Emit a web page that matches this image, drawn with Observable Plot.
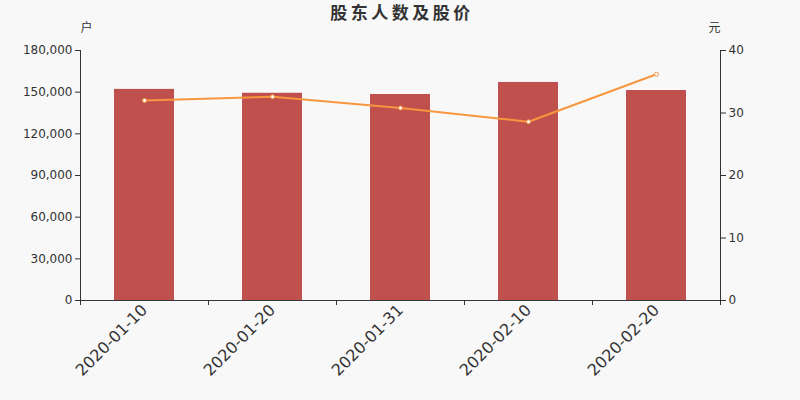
<!DOCTYPE html>
<html><head><meta charset="utf-8">
<script src="https://cdn.jsdelivr.net/npm/d3@7"></script>
<script src="https://cdn.jsdelivr.net/npm/@observablehq/plot@0.6"></script>
<style>body{margin:0;background:#f8f8f8;}</style>
</head><body><div id="chart"></div>
<script>
const dates = ["2020-01-10","2020-01-20","2020-01-31","2020-02-10","2020-02-20"];
const holders = [152000,149200,148300,157000,151200];
const prices = [32.0,32.6,30.8,28.6,36.2];
const leftTicks = [0,30000,60000,90000,120000,150000,180000];
const rightTicks = [0,10,20,30,40];
const title = "股东人数及股价";
const leftUnit = "户", rightUnit = "元";
const yMax = 180000, pMax = 40;
const k = yMax / pMax;
const rows = dates.map((d, i) => ({i, date: d, holders: holders[i], price: prices[i]}));
const idx = dates.map((d, i) => i);
const bounds = [...idx.map(i => i - 0.5), dates.length - 0.5];
const ink = "#333";
const cjk = "'Noto Sans CJK SC',sans-serif";

const chart = Plot.plot({
  width: 800, height: 400,
  marginLeft: 80, marginRight: 80, marginTop: 50, marginBottom: 100,
  style: {background: "#f8f8f8", fontFamily: "'DejaVu Sans','Noto Sans CJK SC',sans-serif", fontSize: "12px", color: ink},
  x: {type: "linear", domain: [-0.5, dates.length - 0.5]},
  y: {domain: [0, yMax]},
  marks: [
    Plot.rectY(rows, {x1: d => d.i - 0.5, x2: d => d.i + 0.5, y: "holders", fill: "#c0504d", insetLeft: 34, insetRight: 34}),
    Plot.line(rows, {x: "i", y: d => d.price * k, stroke: "#f7963f", strokeWidth: 2}),
    Plot.dot(rows, {x: "i", y: d => d.price * k, r: 2, fill: "white", stroke: "#f7963f", strokeWidth: 1}),
    Plot.axisY(leftTicks, {anchor: "left", tickSize: 5, tickPadding: 3, tickFormat: d3.format(","), label: null, fontSize: 12}),
    Plot.axisY(rightTicks.map(v => v * k), {anchor: "right", tickSize: 5, tickPadding: 3, tickFormat: v => String(Math.round(v / k)), label: null, fontSize: 12}),
    Plot.ruleX([-0.5], {stroke: ink}),
    Plot.ruleX([dates.length - 0.5], {stroke: ink}),
    Plot.ruleY([0], {stroke: ink}),
    Plot.axisX(bounds, {tickSize: 5, tickFormat: () => "", label: null}),
    Plot.axisX(idx, {tickSize: 0, tickPadding: 7, tickFormat: i => dates[i], tickRotate: -45, fontSize: 16, label: null}),
    Plot.text([title], {frameAnchor: "top", lineAnchor: "middle", dy: -37, dx: 1.5, fontSize: 17, fontWeight: "bold", fontFamily: cjk, fill: ink}),
    Plot.text([leftUnit], {frameAnchor: "top-left", lineAnchor: "middle", dy: -22, fontSize: 12, fontFamily: cjk, fill: ink}),
    Plot.text([rightUnit], {frameAnchor: "top-right", lineAnchor: "middle", dy: -22, fontSize: 12, fontFamily: cjk, fill: ink})
  ]
});
d3.select(chart).selectAll("text").filter(function() { return this.textContent === title; }).attr("letter-spacing", "3.5");
document.getElementById("chart").append(chart);
</script>
</body></html>
